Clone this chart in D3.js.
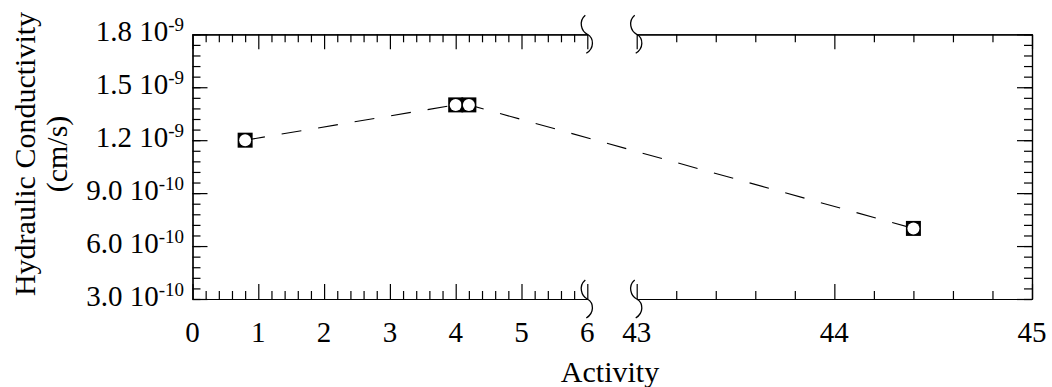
<!DOCTYPE html>
<html>
<head>
<meta charset="utf-8">
<script src="https://cdn.jsdelivr.net/npm/d3@7"></script>
<style>
  body { margin: 0; background: #fff; }
  svg text { font-family: "Liberation Serif", "Times New Roman", serif; fill: #000; }
</style>
</head>
<body>
<div id="chart"></div>
<script>
// chart size
const width = 1052;
const height = 387;

// data
const activity = [0.8, 4.0, 4.2, 44.4];
const conductivity = [1.2e-9, 1.4e-9, 1.4e-9, 7.0e-10];

// tick labels
const xTicksLeft = [0, 1, 2, 3, 4, 5, 6];
const xTicksRight = [43, 44, 45];
const yTicks = [3.0e-10, 6.0e-10, 9.0e-10, 1.2e-9, 1.5e-9, 1.8e-9];
const yMant = ["3.0", "6.0", "9.0", "1.2", "1.5", "1.8"];
const yExp = ["-10", "-10", "-10", "-9", "-9", "-9"];

const plot = { left: 192.5, right: 1032, top: 34.3, bottom: 299 };
const breakL = 587.3, breakR = 636.7;

const svg = d3.select("#chart")
    .append("svg")
    .attr("width", width)
    .attr("height", height);

// two pieces of x axis, joined by a break
const xa = d3.scaleLinear().domain([0, 6]).range([plot.left, breakL]);
const xb = d3.scaleLinear().domain([43, 45]).range([breakR, plot.right]);
const xPos = v => v <= 6 ? xa(v) : xb(v);

const y = d3.scaleLinear().domain([3.0e-10, 1.8e-9]).range([plot.bottom, plot.top]);

const minorL = d3.range(0, 6.001, 0.2).filter(v => Math.abs(v - Math.round(v)) > 1e-6);
const minorR = d3.range(43, 45.001, 0.2).filter(v => Math.abs(v - Math.round(v)) > 1e-6);
const yMinor = d3.range(3.0e-10, 1.8e-9 + 1e-12, 0.6e-10);

function drawAxis(axis, tx, ty) {
    const g = svg.append("g")
        .attr("transform", `translate(${tx},${ty})`)
        .call(axis);
    g.selectAll("path, line").attr("stroke", "#000").attr("stroke-width", 1.2);
    g.selectAll("text").remove();
    return g;
}

// bottom + top axes, major and minor ticks pointing inward
[[xa, xTicksLeft, minorL], [xb, xTicksRight, minorR]].forEach(([sc, maj, min]) => {
    drawAxis(d3.axisBottom(sc).tickValues(maj).tickSize(-15).tickSizeOuter(0), 0, plot.bottom);
    drawAxis(d3.axisBottom(sc).tickValues(min).tickSize(-8).tickSizeOuter(0), 0, plot.bottom);
    drawAxis(d3.axisTop(sc).tickValues(maj).tickSize(-15).tickSizeOuter(0), 0, plot.top);
    drawAxis(d3.axisTop(sc).tickValues(min).tickSize(-8).tickSizeOuter(0), 0, plot.top);
});

// left + right axes
drawAxis(d3.axisLeft(y).tickValues(yTicks).tickSize(-15).tickSizeOuter(0), plot.left, 0);
drawAxis(d3.axisLeft(y).tickValues(yMinor).tickSize(-8).tickSizeOuter(0), plot.left, 0);
drawAxis(d3.axisRight(y).tickValues(yTicks).tickSize(-15).tickSizeOuter(0), plot.right, 0);
drawAxis(d3.axisRight(y).tickValues(yMinor).tickSize(-8).tickSizeOuter(0), plot.right, 0);

// axis break squiggles
const squiggle = (x0, y0) =>
    `M${x0 - 2},${y0 - 19} C${x0 - 9},${y0 - 13} ${x0 - 6},${y0 - 3} ${x0},${y0} ` +
    `C${x0 + 7},${y0 + 4} ${x0 + 7},${y0 + 14} ${x0 - 1},${y0 + 19}`;
[breakL, breakR].forEach(bx => {
    [plot.top, plot.bottom].forEach(by => {
        svg.append("path")
            .attr("d", squiggle(bx, by))
            .attr("fill", "none")
            .attr("stroke", "#000")
            .attr("stroke-width", 1.3);
    });
});

// x tick labels
svg.append("g").selectAll("text")
    .data(xTicksLeft.concat(xTicksRight))
    .join("text")
    .attr("x", d => xPos(d))
    .attr("y", 342)
    .attr("text-anchor", "middle")
    .attr("font-size", 29)
    .text(d => d);

// y tick labels with superscript exponents
const yl = svg.append("g").selectAll("text")
    .data(yTicks)
    .join("text")
    .attr("x", 184)
    .attr("y", d => y(d) + 7)
    .attr("text-anchor", "end")
    .attr("font-size", 29);
yl.append("tspan").text((d, i) => yMant[i] + " 10");
yl.append("tspan").attr("dy", -10).attr("font-size", 19).text((d, i) => yExp[i]);

// axis titles
svg.append("text")
    .attr("x", 610)
    .attr("y", 382)
    .attr("text-anchor", "middle")
    .attr("font-size", 30)
    .text("Activity");

svg.append("text")
    .attr("transform", "translate(35,154) rotate(-90)")
    .attr("text-anchor", "middle")
    .attr("font-size", 30)
    .text("Hydraulic Conductivity");
svg.append("text")
    .attr("transform", "translate(67,154) rotate(-90)")
    .attr("text-anchor", "middle")
    .attr("font-size", 30)
    .text("(cm/s)");

// dashed trend line
const pts = activity.map((a, i) => [xPos(a), y(conductivity[i])]);
svg.append("path")
    .attr("d", d3.line()(pts))
    .attr("fill", "none")
    .attr("stroke", "#000")
    .attr("stroke-width", 1.1)
    .attr("stroke-dasharray", "20,17");

// markers: black square with white circle
const mk = svg.append("g").selectAll("g")
    .data(pts)
    .join("g")
    .attr("transform", d => `translate(${d[0]},${d[1]})`);
mk.append("rect")
    .attr("x", -7.5).attr("y", -7.5)
    .attr("width", 15).attr("height", 15)
    .attr("fill", "#000");
mk.append("circle")
    .attr("r", 6)
    .attr("fill", "#fff");
</script>
</body>
</html>
